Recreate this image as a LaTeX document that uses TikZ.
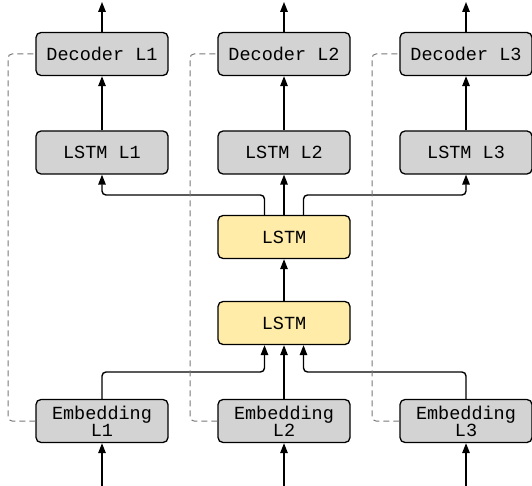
\documentclass[tikz,border=0pt]{standalone}
\usepackage{fontspec}
\setmonofont{Liberation Mono}
\usetikzlibrary{arrows.meta}
\definecolor{boxgray}{RGB}{211,211,211}
\definecolor{boxyellow}{RGB}{255,236,168}
\definecolor{dashgray}{RGB}{120,120,120}
\tikzset{
  blk/.style={draw=black, line width=1.3pt, rounded corners=5pt, minimum width=132pt, minimum height=43pt, inner sep=0pt, font=\ttfamily\fontsize{18.5}{20}\selectfont, align=center, text depth=0pt},
  graybox/.style={blk, fill=boxgray},
  yellowbox/.style={blk, fill=boxyellow},
  conn/.style={line width=1.4pt, rounded corners=4pt, -{Triangle[length=10pt,width=7.5pt]}},
  skip/.style={draw=dashgray, line width=1pt, dash pattern=on 6pt off 4pt, rounded corners=4pt}
}
\begin{document}
\begin{tikzpicture}[x=1pt,y=-1pt]
\useasboundingbox (0,0) rectangle (532,486);
% decoders
\node[graybox] (dec1) at (102,54) {Decoder L1};
\node[graybox] (dec2) at (284,54) {Decoder L2};
\node[graybox] (dec3) at (466,54) {Decoder L3};
% lstm per language
\node[graybox] (ls1) at (102,152.5) {LSTM L1};
\node[graybox] (ls2) at (284,152.5) {LSTM L2};
\node[graybox] (ls3) at (466,152.5) {LSTM L3};
% shared lstms
\node[yellowbox] (up) at (284,237) {LSTM};
\node[yellowbox] (lo) at (284,323) {LSTM};
% embeddings
\node[graybox] (em1) at (102,421) {Embedding\\[-3pt]L1};
\node[graybox] (em2) at (284,421) {Embedding\\[-3pt]L2};
\node[graybox] (em3) at (466,421) {Embedding\\[-3pt]L3};
% free ends
\coordinate (o1) at (102,2);
\coordinate (o2) at (284,2);
\coordinate (o3) at (466,2);
\coordinate (i1) at (102,486);
\coordinate (i2) at (284,486);
\coordinate (i3) at (466,486);
% output arrows
\draw[conn] (dec1.north) -- (o1);
\draw[conn] (dec2.north) -- (o2);
\draw[conn] (dec3.north) -- (o3);
% lstm to decoder
\draw[conn] (ls1) -- (dec1);
\draw[conn] (ls2) -- (dec2);
\draw[conn] (ls3) -- (dec3);
% upper lstm branches
\draw[conn] ([xshift=-19.5pt]up.north) |- (190,195) -| (ls1.south);
\draw[conn] (up) -- (ls2);
\draw[conn] ([xshift=19.5pt]up.north) |- (380,195) -| (ls3.south);
% lower to upper
\draw[conn] (lo) -- (up);
% embeddings to lower lstm
\draw[conn] (em1.north) |- (190,372) -| ([xshift=-19.5pt]lo.south);
\draw[conn] (em2) -- (lo);
\draw[conn] (em3.north) |- (380,372) -| ([xshift=19.5pt]lo.south);
% input arrows
\draw[conn] (i1) -- (em1.south);
\draw[conn] (i2) -- (em2.south);
\draw[conn] (i3) -- (em3.south);
% skip connections
\draw[skip] (em1.west) -| (8,300) |- (dec1.west);
\draw[skip] (em2.west) -| (190,300) |- (dec2.west);
\draw[skip] (em3.west) -| (372,300) |- (dec3.west);
\end{tikzpicture}
\end{document}
